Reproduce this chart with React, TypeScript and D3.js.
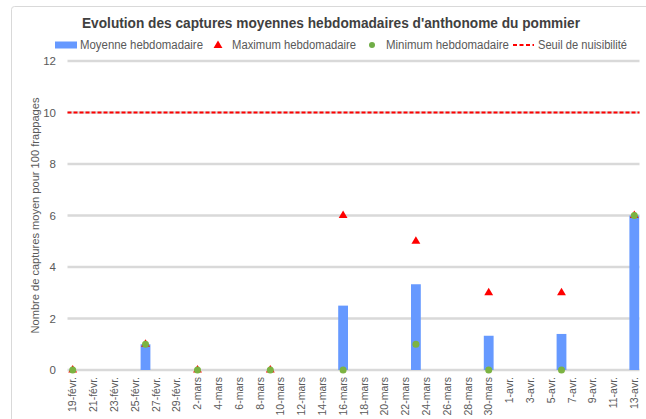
import React from 'react'
import * as d3 from 'd3'

// relevés hebdomadaires
const weeks = ['2024-02-19', '2024-02-26', '2024-03-02', '2024-03-09', '2024-03-16', '2024-03-23', '2024-03-30', '2024-04-06', '2024-04-13']
const moyenne = [0, 1, 0, 0, 2.5, 3.33, 1.33, 1.4, 6]
const maximum = [0, 1, 0, 0, 6, 5, 3, 3, 6]
const minimum = [0, 1, 0, 0, 0, 1, 0, 0, 6]
const seuil = 10
const yTicks = [0, 2, 4, 6, 8, 10, 12]
const moisFr = ['janv.', 'févr.', 'mars', 'avr.', 'mai', 'juin', 'juil.', 'août', 'sept.', 'oct.', 'nov.', 'déc.']
const firstDay = '2024-02-19'
const lastDay = '2024-04-13'

const parse = d3.timeParse('%Y-%m-%d')
const fmtKey = d3.timeFormat('%Y-%m-%d')
const fmtLabel = (d: Date) => d.getDate() + '-' + moisFr[d.getMonth()]

const width = 646
const height = 419
const margin = { top: 61, right: 6.5, bottom: 49, left: 67.5 }
const font = "'Liberation Sans', Arial, sans-serif"

export default function App() {
  const days = d3.timeDay.range(parse(firstDay)!, d3.timeDay.offset(parse(lastDay)!, 1))
  const keys = days.map(fmtKey)

  const x = d3.scaleBand<string>()
    .domain(keys)
    .range([margin.left, width - margin.right])
    .padding(0)

  const y = d3.scaleLinear()
    .domain([0, 12])
    .range([height - margin.bottom, margin.top])

  const bw = x.bandwidth()
  const cx = (k: string) => x(k)! + bw / 2
  const x0 = margin.left
  const x1 = width - margin.right

  const tri = d3.symbol().type(d3.symbolTriangle).size(34)

  return (
    <svg width={width} height={height} style={{ position: 'absolute', left: 0, top: 0, background: '#fff' }} fontFamily={font}>
      <rect x={11.5} y={6.5} width={700} height={500} rx={3} fill="#fff" stroke="#d9d9d9" />

      <text x={82} y={28} fontSize={14} fontWeight="bold" fill="#404040" textLength={498} lengthAdjust="spacingAndGlyphs">
        Evolution des captures moyennes hebdomadaires d'anthonome du pommier
      </text>

      {/* legende */}
      <g fontSize={12} fill="#595959">
        <rect x={55} y={41.5} width={22} height={7} fill="#6699ff" />
        <text x={80} y={49} textLength={123} lengthAdjust="spacingAndGlyphs">Moyenne hebdomadaire</text>
        <path d={tri()!} transform="translate(218,45.5)" fill="#ff0000" />
        <text x={232} y={49} textLength={124} lengthAdjust="spacingAndGlyphs">Maximum hebdomadaire</text>
        <circle cx={372} cy={45} r={3} fill="#70ad47" />
        <text x={386} y={49} textLength={123} lengthAdjust="spacingAndGlyphs">Minimum hebdomadaire</text>
        <line x1={513} x2={534} y1={45} y2={45} stroke="#ff0000" strokeWidth={2} strokeDasharray="4,2.5" />
        <text x={538} y={49} textLength={89} lengthAdjust="spacingAndGlyphs">Seuil de nuisibilité</text>
      </g>

      {/* grille */}
      {yTicks.map(t => (
        <g key={t}>
          <line x1={x0} x2={x1} y1={y(t)} y2={y(t)} stroke="#d9d9d9" strokeWidth={2.5} />
          <text x={56} y={y(t)} dy="0.35em" textAnchor="end" fontSize={11.5} fill="#595959">{t}</text>
        </g>
      ))}

      <text transform={`translate(39,${(y(0) + y(12)) / 2}) rotate(-90)`} textAnchor="middle" fontSize={11} fill="#595959" textLength={236} lengthAdjust="spacingAndGlyphs">
        Nombre de captures moyen pour 100 frappages
      </text>

      {/* etiquettes x */}
      {keys.filter((_, i) => i % 2 === 0).map((k, i) => (
        <text key={k} transform={`translate(${cx(k)},${y(0) + 7}) rotate(-90)`} dy="0.35em" textAnchor="end" fontSize={10.5} fill="#595959">
          {fmtLabel(days[i * 2])}
        </text>
      ))}

      {/* barres */}
      {weeks.map((w, i) => (
        <rect key={w} x={x(w)! + 0.3} width={bw - 0.6} y={y(moyenne[i])} height={y(0) - y(moyenne[i])} fill="#6699ff" />
      ))}

      <line x1={x0} x2={x1} y1={y(seuil)} y2={y(seuil)} stroke="#ff0000" strokeWidth={2} strokeDasharray="4,2" />

      {weeks.map((w, i) => (
        <path key={w} d={tri()!} transform={`translate(${cx(w)},${y(maximum[i])})`} fill="#ff0000" />
      ))}
      {weeks.map((w, i) => (
        <circle key={w} cx={cx(w)} cy={y(minimum[i])} r={3.5} fill="#7cb342" />
      ))}
    </svg>
  )
}
